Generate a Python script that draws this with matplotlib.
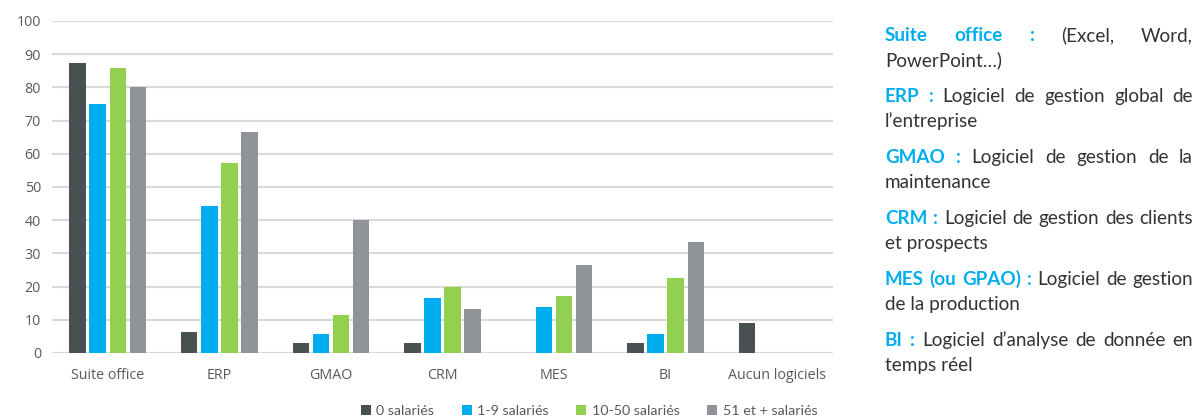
import numpy as np
import matplotlib
matplotlib.use("Agg")
import matplotlib.pyplot as plt

categories = ["Suite office", "ERP", "GMAO", "CRM", "MES", "BI", "Aucun logiciels"]
series_names = ["0 salariés", "1-9 salariés", "10-50 salariés", "51 et + salariés"]
s0 = [87.5, 6.3, 3.1, 3.0, 0, 3.0, 9.1]
s1 = [75.0, 44.4, 5.6, 16.7, 13.9, 5.6, 0]
s2 = [85.7, 57.1, 11.4, 20.0, 17.1, 22.6, 0]
s3 = [80.0, 66.7, 40.0, 13.3, 26.5, 33.3, 0]
colors = ["#495051", "#00AEEF", "#92D050", "#909498"]

# right-hand glossary: (blue label, first line words, second line)
glossary = [
    ("Suite office :", "(Excel, Word,", "PowerPoint…)"),
    ("ERP :", "Logiciel de gestion global de", "l’entreprise"),
    ("GMAO :", "Logiciel de gestion de la", "maintenance"),
    ("CRM :", "Logiciel de gestion des clients", "et prospects"),
    ("MES (ou GPAO) :", "Logiciel de gestion", "de la production"),
    ("BI :", "Logiciel d’analyse de donnée en", "temps réel"),
]

plt.rcParams['font.family'] = ['Open Sans', 'DejaVu Sans']
fig = plt.figure(figsize=(11.98, 4.18), dpi=100)
W, H = 1198, 418
ax = fig.add_axes([52 / W, 1 - 353 / H, (833 - 52) / W, (353 - 21) / H])

x = np.arange(len(categories))
bw = 0.148
step = 0.18
for i, (vals, c) in enumerate(zip([s0, s1, s2, s3], colors)):
    ax.bar(x + (i - 1.5) * step, vals, bw, color=c, label=series_names[i], zorder=3)

ax.set_xlim(-0.5, len(categories) - 0.5)
ax.set_ylim(0, 100)
ax.set_yticks(range(0, 101, 10))
ax.set_xticks(x)
ax.set_xticklabels(categories)
ax.grid(axis='y', color='#D9D9D9', lw=1.5, zorder=0)
for s in ax.spines.values():
    s.set_visible(False)
ax.tick_params(length=0, colors='#595959', labelsize=10.3)
ax.tick_params(axis='x', pad=11)
ax.tick_params(axis='y', pad=8)

leg = fig.legend(loc='center', bbox_to_anchor=(589 / W, 1 - 411 / H), ncol=4, frameon=False,
                 handlelength=0.7, handleheight=0.7, handletextpad=0.4, columnspacing=1.9,
                 prop={'family': 'Lato', 'size': 10.3})
for t in leg.get_texts():
    t.set_color('#595959')

# justified glossary text
fig.canvas.draw()
r = fig.canvas.get_renderer()
x0, x1 = 885, 1193
fs = 13.6
blue = "#00AEEF"
grey = "#333333"


def width(word, bold):
    t = fig.text(0, 0, word, fontsize=fs, family='Lato', weight='bold' if bold else 'normal')
    w = t.get_window_extent(r).width
    t.remove()
    return w


y = 41  # baseline of first line
for label, rest, line2 in glossary:
    words = [(w, True) for w in label.split()] + [(w, False) for w in rest.split()]
    ws = [width(w, b) for w, b in words]
    gap = (x1 - x0 - sum(ws)) / (len(words) - 1)
    xp = x0
    for (w, b), wd in zip(words, ws):
        fig.text(xp / W, 1 - y / H, w, fontsize=fs, family='Lato', va='baseline',
                 weight='bold' if b else 'normal', color=blue if b else grey)
        xp += wd + gap
    fig.text(x0 / W, 1 - (y + 25) / H, line2, fontsize=fs, family='Lato', va='baseline', color=grey)
    y += 61

fig.savefig("out.png", dpi=100)
